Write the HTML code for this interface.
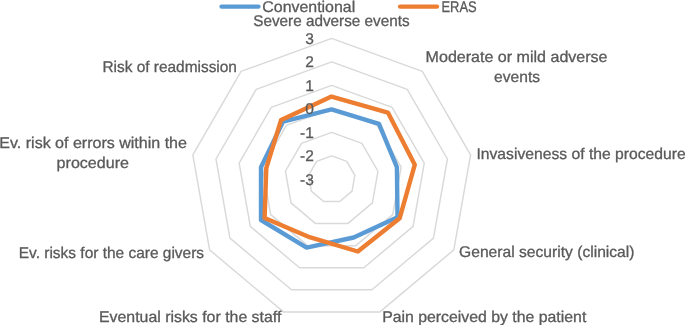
<!DOCTYPE html>
<html><head><meta charset="utf-8"><title>Radar chart</title>
<style>
html,body{margin:0;padding:0;background:#fff;}
body{width:685px;height:325px;overflow:hidden;}
svg{display:block;}
text{font-family:"Liberation Sans",Arial,sans-serif;fill:#595959;text-rendering:geometricPrecision;stroke:#595959;stroke-width:0.30px;}
</style></head><body>
<svg width="685" height="325" viewBox="0 0 685 325">
<rect width="685" height="325" fill="#fff"/>
<g fill="none" stroke="#d9d9d9" stroke-width="1.45" stroke-linejoin="round">
<polygon points="331.70,155.90 346.81,161.40 354.84,175.32 352.05,191.15 339.74,201.48 323.66,201.48 311.35,191.15 308.56,175.32 316.59,161.40"/>
<polygon points="331.70,132.40 361.91,143.40 377.99,171.24 372.40,202.90 347.77,223.57 315.63,223.57 291.00,202.90 285.41,171.24 301.49,143.40"/>
<polygon points="331.70,108.90 377.02,125.39 401.13,167.16 392.75,214.65 355.81,245.65 307.59,245.65 270.65,214.65 262.27,167.16 286.38,125.39"/>
<polygon points="331.70,85.40 392.12,107.39 424.27,163.08 413.11,226.40 363.85,267.73 299.55,267.73 250.29,226.40 239.13,163.08 271.28,107.39"/>
<polygon points="331.70,61.90 407.23,89.39 447.41,159.00 433.46,238.15 371.89,289.81 291.51,289.81 229.94,238.15 215.99,159.00 256.17,89.39"/>
<polygon points="331.70,38.40 422.33,71.39 470.56,154.92 453.81,249.90 379.92,311.90 283.48,311.90 209.59,249.90 192.84,154.92 241.07,71.39"/>
</g>
<polygon points="331.5,109.4 379.0,123.9 396.9,167.2 397.5,217.2 353.7,237.5 306.6,247.6 261.0,220.0 261.0,167.2 283.1,121.6" fill="none" stroke="#5b9bd5" stroke-width="4.4" stroke-linejoin="round"/>
<polygon points="331.5,96.6 387.9,112.6 414.8,164.7 399.7,218.2 357.8,251.5 309.6,237.2 264.6,218.0 266.3,168.2 281.1,119.9" fill="none" stroke="#ed7d31" stroke-width="4.4" stroke-linejoin="round"/>
<line x1="221.6" y1="6.6" x2="258.4" y2="6.6" stroke="#5b9bd5" stroke-width="4.4" stroke-linecap="round"/>
<line x1="400.1" y1="6.6" x2="437.0" y2="6.6" stroke="#ed7d31" stroke-width="4.4" stroke-linecap="round"/>
<g font-size="15.5">
<text x="253.29" y="26.4" textLength="156.32" lengthAdjust="spacingAndGlyphs">Severe adverse events</text>
<text x="425.64" y="61.7" textLength="181.92" lengthAdjust="spacingAndGlyphs">Moderate or mild adverse</text>
<text x="494.11" y="82.3" textLength="45.93" lengthAdjust="spacingAndGlyphs">events</text>
<text x="476.46" y="158.5" textLength="209.24" lengthAdjust="spacingAndGlyphs">Invasiveness of the procedure</text>
<text x="459.08" y="257.2" textLength="175.39" lengthAdjust="spacingAndGlyphs">General security (clinical)</text>
<text x="382.16" y="321.5" textLength="204.14" lengthAdjust="spacingAndGlyphs">Pain perceived by the patient</text>
<text x="98.99" y="321.5" textLength="182.34" lengthAdjust="spacingAndGlyphs">Eventual risks for the staff</text>
<text x="18.81" y="257.6" textLength="185.26" lengthAdjust="spacingAndGlyphs">Ev. risks for the care givers</text>
<text x="-0.70" y="148.0" textLength="187.64" lengthAdjust="spacingAndGlyphs">Ev. risk of errors within the</text>
<text x="56.64" y="168.4" textLength="72.30" lengthAdjust="spacingAndGlyphs">procedure</text>
<text x="102.48" y="72.1" textLength="134.43" lengthAdjust="spacingAndGlyphs">Risk of readmission</text>
<text x="262.29" y="11.8" textLength="92.95" lengthAdjust="spacingAndGlyphs">Conventional</text>
<text x="441.48" y="11.7" textLength="35.21" lengthAdjust="spacingAndGlyphs">ERAS</text>
<text x="313.8" y="44" text-anchor="end">3</text>
<text x="313.8" y="67" text-anchor="end">2</text>
<text x="313.8" y="91" text-anchor="end">1</text>
<text x="313.8" y="114" text-anchor="end">0</text>
<text x="313.8" y="138" text-anchor="end">-1</text>
<text x="313.8" y="161" text-anchor="end">-2</text>
<text x="313.8" y="185" text-anchor="end">-3</text>
</g>
</svg>
</body></html>
